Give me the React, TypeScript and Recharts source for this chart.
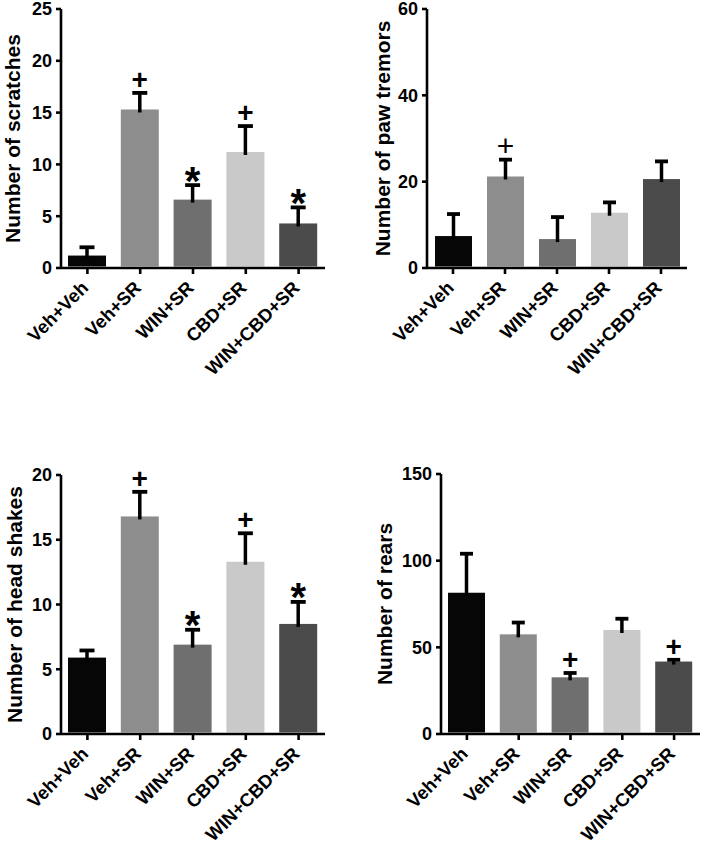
import React from 'react';
import { BarChart, Bar, XAxis, YAxis } from 'recharts';

const FONT = '"Liberation Sans", Arial, Helvetica, sans-serif';

const categories = ['Veh+Veh', 'Veh+SR', 'WIN+SR', 'CBD+SR', 'WIN+CBD+SR'];
const barColors = ['#060606', '#8d8d8d', '#6f6f6f', '#c9c9c9', '#4b4b4b'];

// Number of scratches
const scratchMeans = [1.2, 15.3, 6.6, 11.2, 4.3];
const scratchSem = [0.8, 1.6, 1.4, 2.5, 1.55];
const scratchMarks = ['', '+', '*', '+', '*'];
const scratchTicks = [0, 5, 10, 15, 20, 25];

// Number of paw tremors
const tremorMeans = [7.4, 21.2, 6.7, 12.8, 20.6];
const tremorSem = [5.1, 3.9, 5.1, 2.4, 4.1];
const tremorMarks = ['', '+', '', '', ''];
const tremorTicks = [0, 20, 40, 60];

// Number of head shakes
const shakeMeans = [5.9, 16.8, 6.9, 13.3, 8.5];
const shakeSem = [0.55, 1.9, 1.15, 2.2, 1.7];
const shakeMarks = ['', '+', '*', '+', '*'];
const shakeTicks = [0, 5, 10, 15, 20];

// Number of rears
const rearMeans = [81.5, 57.5, 32.7, 60, 41.8];
const rearSem = [22.5, 6.8, 2.5, 6.5, 1.0];
const rearMarks = ['', '', '+', '', '+'];
const rearTicks = [0, 50, 100, 150];

const buildData = (means: number[], sem: number[], marks: string[]) =>
  categories.map((name, i) => ({ name, mean: means[i], sem: sem[i], mark: marks[i] }));

const makeShape = (capW: number, plusWeight: number, plusSize: number) => (props: any) => {
  const { x, y, width, height, index, payload } = props;
  const ppu = payload.mean > 0 ? height / payload.mean : 0;
  const errY = y - payload.sem * ppu;
  const cx = x + width / 2;
  const markCenter = errY - 14;
  let markEl = null;
  if (payload.mark === '+') {
    markEl = (
      <text x={cx} y={markCenter + 0.355 * plusSize} textAnchor="middle" fontSize={plusSize}
        fontWeight={plusWeight} fontFamily={FONT} fill="#000">+</text>
    );
  } else if (payload.mark === '*') {
    const fs = 40;
    markEl = (
      <text x={cx} y={markCenter + 0.585 * fs} textAnchor="middle" fontSize={fs}
        fontWeight={700} fontFamily={FONT} fill="#000">*</text>
    );
  }
  return (
    <g>
      <rect x={x} y={y} width={width} height={Math.max(0, height - 1.5)} fill={barColors[index]} />
      <line x1={cx} x2={cx} y1={y + 3} y2={errY} stroke="#000" strokeWidth={3.5} />
      <line x1={cx - capW / 2} x2={cx + capW / 2} y1={errY} y2={errY} stroke="#000" strokeWidth={3.8} />
      {markEl}
    </g>
  );
};

const CatTick = (props: any) => {
  const { x, y, payload } = props;
  const ax = x + 2;
  const ay = y + 13;
  return (
    <text x={ax} y={ay} transform={`rotate(-45 ${ax} ${ay})`} textAnchor="end" fontSize={18.5}
      fontWeight={700} fontFamily={FONT} fill="#000">{payload.value}</text>
  );
};

const makeYLabel = (text: string, gap: number) => (props: any) => {
  const vb = props.viewBox;
  if (!vb) return null;
  const lx = vb.x + vb.width - gap;
  const ly = vb.y + vb.height / 2;
  return (
    <text x={lx} y={ly} transform={`rotate(-90 ${lx} ${ly})`} textAnchor="middle" fontSize={21}
      fontWeight={700} fontFamily={FONT} fill="#000">{text}</text>
  );
};

type PanelProps = {
  left: number; top: number; w: number; h: number;
  margin: { top: number; right: number; bottom: number; left: number };
  data: any[]; ticks: number[]; label: string; labelGap: number;
  barSize: number; capW: number; plusWeight: number; plusSize: number;
};

const Panel = (p: PanelProps) => (
  <div style={{ position: 'absolute', left: p.left, top: p.top, width: p.w, height: p.h }}>
    <BarChart width={p.w} height={p.h} data={p.data} margin={p.margin}>
      <XAxis dataKey="name" height={100} interval={0} tickSize={6}
        axisLine={{ stroke: '#000', strokeWidth: 2.6 }}
        tickLine={{ stroke: '#000', strokeWidth: 2.6 }}
        tick={<CatTick />} />
      <YAxis width={50} domain={[0, p.ticks[p.ticks.length - 1]]} ticks={p.ticks} interval={0}
        tickSize={5} tickMargin={4}
        axisLine={{ stroke: '#000', strokeWidth: 2.6 }}
        tickLine={{ stroke: '#000', strokeWidth: 2.6 }}
        tick={{ fill: '#000', fontSize: 18, fontWeight: 700, fontFamily: FONT }}
        label={makeYLabel(p.label, p.labelGap)} />
      <Bar dataKey="mean" barSize={p.barSize} isAnimationActive={false}
        shape={makeShape(p.capW, p.plusWeight, p.plusSize)} />
    </BarChart>
  </div>
);

export default function App() {
  return (
    <div style={{ position: 'absolute', left: 0, top: 0, width: 709, height: 850, background: '#fff', fontFamily: FONT }}>
      <Panel left={0} top={0} w={354} h={420}
        margin={{ top: 9, right: 29, bottom: 52, left: 11 }}
        data={buildData(scratchMeans, scratchSem, scratchMarks)} ticks={scratchTicks}
        label="Number of scratches" labelGap={41} barSize={38} capW={15} plusWeight={700} plusSize={28} />
      <Panel left={354} top={0} w={355} h={420}
        margin={{ top: 9, right: 22, bottom: 52, left: 23 }}
        data={buildData(tremorMeans, tremorSem, tremorMarks)} ticks={tremorTicks}
        label="Number of paw tremors" labelGap={37} barSize={37} capW={13} plusWeight={400} plusSize={30} />
      <Panel left={0} top={420} w={354} h={430}
        margin={{ top: 55, right: 29, bottom: 16, left: 11 }}
        data={buildData(shakeMeans, shakeSem, shakeMarks)} ticks={shakeTicks}
        label="Number of head shakes" labelGap={39} barSize={38} capW={15} plusWeight={700} plusSize={28} />
      <Panel left={354} top={420} w={355} h={430}
        margin={{ top: 54, right: 9, bottom: 16, left: 37 }}
        data={buildData(rearMeans, rearSem, rearMarks)} ticks={rearTicks}
        label="Number of rears" labelGap={49} barSize={37} capW={13} plusWeight={700} plusSize={28} />
    </div>
  );
}
